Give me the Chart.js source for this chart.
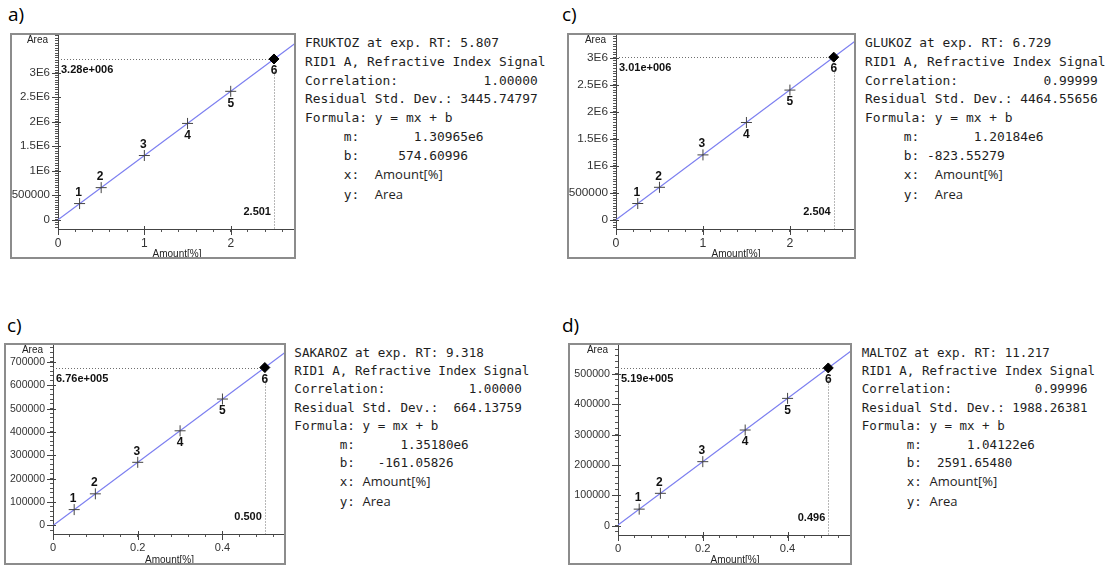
<!DOCTYPE html>
<html lang="en">
<head>
<meta charset="UTF-8">
<title>Calibration curves</title>
<style>
  body { margin: 0; background: #fff; width: 1111px; height: 567px; position: relative; overflow: hidden; }
  canvas { position: absolute; }
  .tag { position: absolute; font-family: 'Open Sans'; font-size: 19px; line-height: 1; color: #000; }
  .report { position: absolute; font-family: 'DejaVu Sans Mono'; color: #1e1e1e; white-space: pre; }
  .report .prop { font-family: 'Open Sans'; font-size: 13px; }
</style>
</head>
<body>
<canvas id="chartA" width="286" height="226"></canvas>
<canvas id="chartB" width="289" height="226"></canvas>
<canvas id="chartC" width="282" height="222"></canvas>
<canvas id="chartD" width="284" height="222"></canvas>

<script src="https://cdn.jsdelivr.net/npm/chart.js@4.4.1/dist/chart.umd.min.js"></script>
<script>
// ---- values ----
const fruktozAmount = [0.25, 0.5, 1.0, 1.5, 2.0, 2.501];
const fruktozArea   = [330000, 655000, 1310000, 1965000, 2620000, 3280000];
const glukozAmount  = [0.25, 0.5, 1.0, 1.5, 2.0, 2.504];
const glukozArea    = [300000, 600000, 1200000, 1800000, 2400000, 3010000];
const sakarozAmount = [0.05, 0.1, 0.2, 0.3, 0.4, 0.500];
const sakarozArea   = [67500, 135000, 270000, 405000, 541000, 676000];
const maltozAmount  = [0.05, 0.1, 0.2, 0.3, 0.4, 0.496];
const maltozArea    = [55000, 107000, 211000, 315000, 419000, 519000];

const compounds     = ['FRUKTOZ', 'GLUKOZ', 'SAKAROZ', 'MALTOZ'];
const retTimes      = ['5.807', '6.729', '9.318', '11.217'];
const correlations  = ['1.00000', '0.99999', '1.00000', '0.99996'];
const residualSD    = ['3445.74797', '4464.55656', '664.13759', '1988.26381'];
const slopeText     = ['1.30965e6', '1.20184e6', '1.35180e6', '1.04122e6'];
const interceptText = ['574.60996', '-823.55279', '-161.05826', '2591.65480'];
const lastAreaText  = ['3.28e+006', '3.01e+006', '6.76e+005', '5.19e+005'];
const lastAmountText = ['2.501', '2.504', '0.500', '0.496'];
const panelTags     = ['a)', 'c)', 'c)', 'd)'];

const bigYTicks   = [0, 500000, 1000000, 1500000, 2000000, 2500000, 3000000];
const bigYLabels  = ['0', '500000', '1E6', '1.5E6', '2E6', '2.5E6', '3E6'];
const smallYTicks = [0, 100000, 200000, 300000, 400000, 500000, 600000, 700000];
const smallYLabels = ['0', '100000', '200000', '300000', '400000', '500000', '600000', '700000'];
const bigXTicks   = [0, 1, 2];
const bigXLabels  = ['0', '1', '2'];
const smallXTicks = [0, 0.2, 0.4];
const smallXLabels = ['0', '0.2', '0.4'];

// ---- layout of each panel (positions only) ----
const panels = [
  { id: 'chartA', left: 10, top: 33, yw: 48, xh: 30, xMax: 2.756, yMin: -189000, yMax: 3810000,
    amount: fruktozAmount, area: fruktozArea, yT: bigYTicks, yL: bigYLabels, yMinor: 50000,
    xT: bigXTicks, xL: bigXLabels, xMinor: 0.2, fs: 11.5,
    tag: [8, 5], rep: { left: 305, top: 34, fs: 12.9, lh: 18.75, indent: 5, mCol: 14, bCol: 12, xCol: 9 } },
  { id: 'chartB', left: 567, top: 33, yw: 49, xh: 30, xMax: 2.76, yMin: -172000, yMax: 3457000,
    amount: glukozAmount, area: glukozArea, yT: bigYTicks, yL: bigYLabels, yMinor: 50000,
    xT: bigXTicks, xL: bigXLabels, xMinor: 0.2, fs: 11.8,
    tag: [562, 5], rep: { left: 865, top: 34, fs: 12.9, lh: 18.75, indent: 5, mCol: 14, bCol: 8, xCol: 9 } },
  { id: 'chartC', left: 4, top: 343, yw: 49, xh: 31, xMax: 0.550, yMin: -37000, yMax: 781000,
    amount: sakarozAmount, area: sakarozArea, yT: smallYTicks, yL: smallYLabels, yMinor: 20000,
    xT: smallXTicks, xL: smallXLabels, xMinor: 0.04, fs: 10.5,
    tag: [7, 316], rep: { left: 294.3, top: 343.5, fs: 12.6, lh: 18.4, indent: 6, mCol: 14, bCol: 11, xCol: 9 } },
  { id: 'chartD', left: 568, top: 343, yw: 50, xh: 30, xMax: 0.552, yMin: -30000, yMax: 601000,
    amount: maltozAmount, area: maltozArea, yT: smallYTicks.slice(0, 6), yL: smallYLabels.slice(0, 6), yMinor: 20000,
    xT: smallXTicks, xL: smallXLabels, xMinor: 0.04, fs: 10.7,
    tag: [562, 316], rep: { left: 861.7, top: 343.5, fs: 12.5, lh: 18.4, indent: 6, mCol: 14, bCol: 10, xCol: 9 } }
];

Chart.defaults.font.family = 'Liberation Sans';

function minorList(min, max, step) {
  const out = [];
  for (let k = Math.ceil(min / step); k * step <= max; k++) {
    out.push(Math.round(k * step * 1e6) / 1e6);
  }
  return out;
}

// scales must not reserve room for half labels: plot area has to touch the frame
function noPad(s) {
  s.paddingTop = 0; s.paddingBottom = 0; s.paddingLeft = 0; s.paddingRight = 0;
}

// dotted guides, number labels, axis titles, long major ticks, frame
const calibDecor = {
  id: 'calibDecor',
  beforeDatasetsDraw(chart, args, o) {
    const { ctx, chartArea: a, scales: { x, y } } = chart;
    const px = Math.round(x.getPixelForValue(o.lastX)) + 0.5;
    const py = Math.round(y.getPixelForValue(o.lastY)) + 0.5;
    ctx.save();
    ctx.strokeStyle = '#6e6e6e';
    ctx.lineWidth = 1;
    ctx.setLineDash([1, 2]);
    ctx.beginPath();
    ctx.moveTo(a.left, py); ctx.lineTo(px, py);
    ctx.moveTo(px, py); ctx.lineTo(px, a.bottom);
    ctx.stroke();
    ctx.restore();
  },
  afterDraw(chart, args, o) {
    const { ctx, chartArea: a, scales: { x, y }, width: w, height: h } = chart;
    ctx.save();
    // longer major ticks crossing the axes
    ctx.strokeStyle = '#444';
    ctx.lineWidth = 1;
    ctx.beginPath();
    o.yMajor.forEach(v => {
      const py = Math.round(y.getPixelForValue(v)) + 0.5;
      ctx.moveTo(a.left - 6, py); ctx.lineTo(a.left + 3, py);
    });
    o.xMajor.forEach(v => {
      const px = Math.round(x.getPixelForValue(v)) + 0.5;
      ctx.moveTo(px, a.bottom - 3); ctx.lineTo(px, a.bottom + 6);
    });
    ctx.stroke();

    // point numbers
    ctx.fillStyle = '#111';
    ctx.font = 'bold 12px "Liberation Sans"';
    ctx.textAlign = 'center';
    ctx.textBaseline = 'middle';
    chart.getDatasetMeta(0).data.forEach((pt, k) => {
      ctx.fillText(String(k + 1), pt.x - (k < 3 ? 1 : 0), k < 3 ? pt.y - 11 : pt.y + 12);
    });

    // values of the last standard
    const lx = x.getPixelForValue(o.lastX);
    const ly = y.getPixelForValue(o.lastY);
    ctx.font = 'bold 11px "Liberation Sans"';
    ctx.textAlign = 'left';
    ctx.fillText(o.areaText, a.left + 3, ly + 11);
    ctx.textAlign = 'right';
    ctx.fillText(o.amountText, lx - 3, a.bottom - 17);

    // axis titles
    ctx.fillStyle = '#222';
    ctx.font = '10px "Liberation Sans"';
    ctx.textAlign = 'right';
    ctx.fillText('Area', a.left - 10, 7);
    ctx.textAlign = 'center';
    ctx.fillText('Amount[%]', (a.left + a.right) / 2, h - 4.5);

    // frame
    ctx.strokeStyle = '#8c8c8c';
    ctx.lineWidth = 2;
    ctx.strokeRect(1, 1, w - 2, h - 2);
    ctx.restore();
  }
};

panels.forEach((p, i) => {
  const canvas = document.getElementById(p.id);
  canvas.style.left = p.left + 'px';
  canvas.style.top = p.top + 'px';

  const last = p.amount.length - 1;
  const m = parseFloat(slopeText[i]);
  const b = parseFloat(interceptText[i]);
  const yTickList = minorList(p.yMin, p.yMax, p.yMinor);
  const xTickList = minorList(0, p.xMax, p.xMinor);

  new Chart(canvas, {
    type: 'scatter',
    data: {
      datasets: [{
        data: p.amount.map((v, k) => ({ x: v, y: p.area[k] })),
        pointStyle: c => c.dataIndex === last ? 'rectRot' : 'cross',
        pointRadius: c => c.dataIndex === last ? 5 : 5.5,
        pointBorderColor: c => c.dataIndex === last ? '#000' : '#444',
        pointBackgroundColor: '#000',
        pointBorderWidth: 1
      }, {
        type: 'line',
        data: [{ x: 0, y: b }, { x: p.xMax, y: m * p.xMax + b }],
        borderColor: '#7c7ff0',
        borderWidth: 1.2,
        pointRadius: 0,
        fill: false
      }]
    },
    options: {
      responsive: false,
      animation: false,
      layout: { padding: 0, autoPadding: false },
      plugins: {
        legend: { display: false },
        tooltip: { enabled: false },
        calibDecor: {
          lastX: p.amount[last], lastY: p.area[last],
          areaText: lastAreaText[i], amountText: lastAmountText[i],
          yMajor: p.yT, xMajor: p.xT
        }
      },
      scales: {
        x: {
          type: 'linear', min: 0, max: p.xMax,
          afterBuildTicks: s => { s.ticks = xTickList.map(v => ({ value: v })); },
          afterFit: s => { s.height = p.xh; noPad(s); },
          grid: { drawOnChartArea: false, tickLength: 3, color: '#555' },
          border: { color: '#444', width: 1 },
          ticks: {
            autoSkip: false, maxRotation: 0, minRotation: 0, padding: 4, color: '#333',
            font: { size: p.fs + 0.5 },
            callback: v => { const k = p.xT.indexOf(v); return k >= 0 ? p.xL[k] : ''; }
          }
        },
        y: {
          type: 'linear', min: p.yMin, max: p.yMax,
          afterBuildTicks: s => { s.ticks = yTickList.map(v => ({ value: v })); },
          afterFit: s => { s.width = p.yw; noPad(s); },
          grid: { drawOnChartArea: false, tickLength: 3, color: '#555' },
          border: { color: '#444', width: 1 },
          ticks: {
            autoSkip: false, padding: 5, color: '#333',
            font: { size: p.fs },
            callback: v => { const k = p.yT.indexOf(v); return k >= 0 ? p.yL[k] : ''; }
          }
        }
      }
    },
    plugins: [calibDecor]
  });

  // panel letter
  const tag = document.createElement('div');
  tag.className = 'tag';
  tag.style.left = p.tag[0] + 'px';
  tag.style.top = p.tag[1] + 'px';
  tag.textContent = panelTags[i];
  document.body.appendChild(tag);

  // calibration report text
  const r = p.rep;
  const rep = document.createElement('div');
  rep.className = 'report';
  rep.style.left = r.left + 'px';
  rep.style.top = r.top + 'px';
  rep.style.fontSize = r.fs + 'px';
  rep.style.lineHeight = r.lh + 'px';
  const ind = ' '.repeat(r.indent);
  const lines = [
    compounds[i] + ' at exp. RT: ' + retTimes[i],
    'RID1 A, Refractive Index Signal',
    'Correlation:' + correlations[i].padStart(18),
    'Residual Std. Dev.:' + residualSD[i].padStart(11),
    'Formula: y = mx + b',
    ind + 'm:' + ' '.repeat(r.mCol - r.indent - 2) + slopeText[i],
    ind + 'b:' + ' '.repeat(r.bCol - r.indent - 2) + interceptText[i]
  ];
  lines.forEach(t => {
    const d = document.createElement('div');
    d.textContent = t;
    rep.appendChild(d);
  });
  [['x:', 'Amount[%]'], ['y:', 'Area']].forEach(([k, t]) => {
    const d = document.createElement('div');
    d.textContent = ind + k + ' '.repeat(r.xCol - r.indent - 2);
    const s = document.createElement('span');
    s.className = 'prop';
    s.textContent = t;
    d.appendChild(s);
    rep.appendChild(d);
  });
  document.body.appendChild(rep);
});
</script>
</body>
</html>
